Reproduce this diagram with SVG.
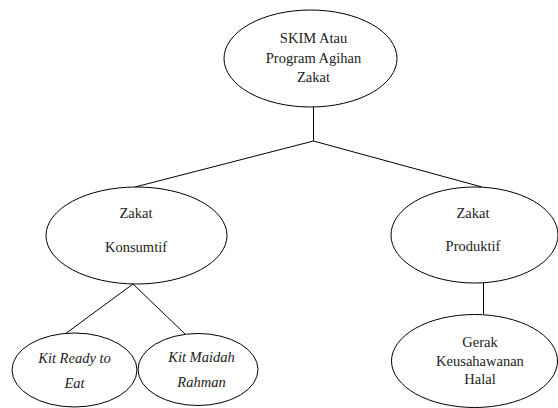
<svg xmlns="http://www.w3.org/2000/svg" width="558" height="408" viewBox="0 0 558 408">
<style>
.n ellipse{fill:#fff;stroke:#000;stroke-width:1}
.c line{stroke:#000;stroke-width:1}
.t{font-family:'Liberation Serif','Times New Roman',Times,serif;font-size:14.5px;fill:#222;text-anchor:middle}
.i{font-style:italic}
</style>
<rect width="558" height="408" fill="#fff"/>
<g id="connectors" class="c">
<line x1="313.5" y1="107" x2="313.5" y2="141"/>
<line x1="313.5" y1="141" x2="135" y2="187"/>
<line x1="313.5" y1="141" x2="482" y2="187"/>
<line x1="133" y1="284" x2="65" y2="334"/>
<line x1="133" y1="284" x2="185" y2="334"/>
<line x1="483.5" y1="283" x2="483.5" y2="314"/>
</g>
<g id="skim" class="n">
<ellipse cx="310.5" cy="58.5" rx="86.5" ry="48.5"/>
<text class="t" x="313.5" y="43">SKIM Atau</text>
<text class="t" x="313.5" y="63">Program Agihan</text>
<text class="t" x="313.5" y="82">Zakat</text>
</g>
<g id="konsumtif" class="n">
<ellipse cx="136.5" cy="235.5" rx="90.5" ry="48.5"/>
<text class="t" x="136" y="218">Zakat</text>
<text class="t" x="136" y="252">Konsumtif</text>
</g>
<g id="produktif" class="n">
<ellipse cx="474.5" cy="235" rx="83.5" ry="48"/>
<text class="t" x="473" y="218">Zakat</text>
<text class="t" x="473" y="251">Produktif</text>
</g>
<g id="kit-ready" class="n">
<ellipse cx="74.5" cy="370" rx="62.5" ry="37"/>
<text class="t i" x="74.5" y="363">Kit Ready to</text>
<text class="t i" x="74.5" y="388">Eat</text>
</g>
<g id="kit-maidah" class="n">
<ellipse cx="198" cy="369.5" rx="60" ry="36"/>
<text class="t i" x="201.5" y="362">Kit Maidah</text>
<text class="t i" x="201.5" y="387">Rahman</text>
</g>
<g id="gerak" class="n">
<ellipse cx="474.5" cy="361" rx="83" ry="46.5"/>
<text class="t" x="480" y="347">Gerak</text>
<text class="t" x="480" y="365.5">Keusahawanan</text>
<text class="t" x="480" y="384">Halal</text>
</g>
</svg>
